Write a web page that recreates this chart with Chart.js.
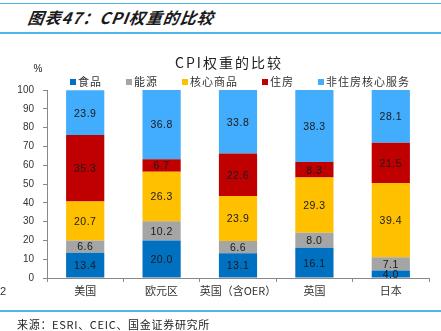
<!DOCTYPE html>
<html>
<head>
<meta charset="utf-8">
<script src="https://cdn.jsdelivr.net/npm/chart.js@4"></script>
<style>
  html, body { margin: 0; padding: 0; background: #fff; }
  #page { position: relative; width: 441px; height: 331px; overflow: hidden; font-family: "Noto Sans CJK SC", sans-serif; }
  .rule { position: absolute; left: 0; width: 441px; height: 1px; background: #4db6ea; }
  #head { position: absolute; left: 28px; top: 5px; font-size: 16px; font-weight: bold; font-style: italic; color: #1a1a1a; letter-spacing: 1px; transform: skewX(-8deg); }
  #src { position: absolute; left: 17px; top: 316px; font-size: 11px; color: #222; letter-spacing: 0.7px; }
  #pg { position: absolute; left: 0; top: 285px; font-size: 11px; color: #333; font-family: "Liberation Sans", sans-serif; }
  #wrap { position: absolute; left: 0; top: 36px; width: 441px; height: 266px; }
</style>
</head>
<body>
<div id="page">
  <div class="rule" style="top:3px"></div>
  <div id="head">图表47：CPI权重的比较</div>
  <div class="rule" style="top:32px; height:2px"></div>
  <div id="wrap"><canvas id="cpiChart"></canvas></div>
  <div id="pg">2</div>
  <div class="rule" style="top:310px; height:2px"></div>
  <div id="src">来源：ESRI、CEIC、国金证券研究所</div>
</div>
<script>
const categories = ['美国', '欧元区', '英国（含OER）', '英国', '日本'];
const food = [13.4, 20.0, 13.1, 16.1, 4.0];
const energy = [6.6, 10.2, 6.6, 8.0, 7.1];
const coreGoods = [20.7, 26.3, 23.9, 29.3, 39.4];
const housing = [35.3, 6.7, 22.6, 8.3, 21.5];
const services = [23.9, 36.8, 33.8, 38.3, 28.1];
const yTicks = [0, 10, 20, 30, 40, 50, 60, 70, 80, 90, 100];

const seriesNames = ['食品', '能源', '核心商品', '住房', '非住房核心服务'];
const seriesColors = ['#0070c0', '#a5a5a5', '#ffc000', '#c00000', '#42acfd'];
const seriesData = [food, energy, coreGoods, housing, services];

// title, "%" unit, legend and value labels drawn on the canvas
const decor = {
    id: 'decor',
    afterDatasetsDraw(chart) {
        const ctx = chart.ctx;
        ctx.save();
        ctx.fillStyle = '#222';
        ctx.textBaseline = 'middle';

        ctx.font = '14px "Noto Sans CJK SC"';
        ctx.letterSpacing = '2px';
        ctx.textAlign = 'center';
        ctx.fillText('CPI权重的比较', 229, 27);

        ctx.letterSpacing = '0px';
        ctx.font = '10px "Liberation Sans"';
        ctx.fillText('%', 38, 33);

        ctx.font = '11px "Noto Sans CJK SC"';
        ctx.letterSpacing = '1px';
        ctx.textAlign = 'left';
        let x = 70;
        seriesNames.forEach(function(name, i) {
            ctx.fillStyle = seriesColors[i];
            ctx.fillRect(x, 43, 6, 6);
            ctx.fillStyle = '#333';
            ctx.fillText(name, x + 8, 46);
            x += 8 + ctx.measureText(name).width + 24;
        });

        ctx.letterSpacing = '0.5px';
        ctx.font = '10.5px "Liberation Sans"';
        ctx.textAlign = 'center';
        ctx.fillStyle = '#1a1a1a';
        chart.data.datasets.forEach(function(ds, di) {
            chart.getDatasetMeta(di).data.forEach(function(bar, i) {
                const p = bar.getProps(['x', 'y', 'base']);
                ctx.fillText(ds.data[i].toFixed(1), p.x, (p.y + p.base) / 2 + 1);
            });
        });
        ctx.restore();
    }
};

new Chart(document.getElementById('cpiChart'), {
    type: 'bar',
    data: {
        labels: categories,
        datasets: seriesData.map(function(d, i) {
            return {
                label: seriesNames[i],
                data: d,
                backgroundColor: seriesColors[i],
                borderWidth: 0,
                categoryPercentage: 1,
                barPercentage: 0.5
            };
        })
    },
    options: {
        responsive: true,
        maintainAspectRatio: false,
        animation: false,
        layout: { padding: { top: 54, right: 12, left: 0, bottom: 0 } },
        plugins: {
            legend: { display: false },
            title: { display: false },
            tooltip: { enabled: false }
        },
        scales: {
            x: {
                stacked: true,
                grid: { display: true, drawOnChartArea: false, offset: true, tickLength: 4, color: '#888' },
                border: { color: '#888' },
                ticks: { color: '#333', font: { family: 'Noto Sans CJK SC', size: 11 }, padding: 2, maxRotation: 0, autoSkip: false },
                afterFit: function(s) { s.height = 24; }
            },
            y: {
                stacked: true,
                min: 0,
                max: 100,
                afterBuildTicks: function(s) { s.ticks = yTicks.map(function(v) { return { value: v }; }); },
                grid: { display: true, drawOnChartArea: false, tickLength: 4, color: '#888' },
                border: { color: '#888' },
                ticks: { color: '#333', font: { family: 'Liberation Sans', size: 10 }, padding: 9 },
                afterFit: function(s) { s.width = 47; }
            }
        }
    },
    plugins: [decor]
});
</script>
</body>
</html>
